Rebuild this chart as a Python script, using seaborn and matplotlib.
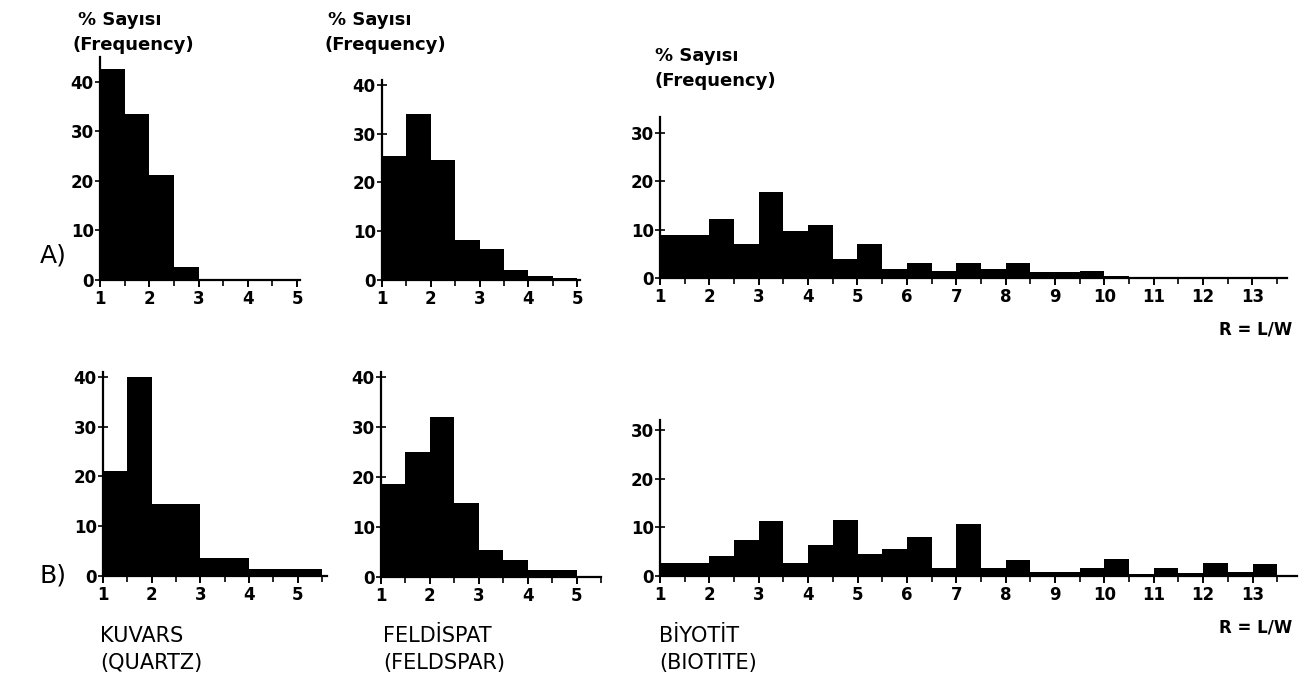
import numpy as np
import pandas as pd
import matplotlib
matplotlib.use("Agg")
import matplotlib.pyplot as plt
import seaborn as sns
from matplotlib.ticker import MultipleLocator

sns.set_theme(style="white")
plt.rcParams['font.family'] = ['DejaVu Sans']
plt.rcParams['font.weight'] = 'bold'
plt.rcParams['text.color'] = 'black'

# ---------------- data (percent frequency per 0.5-wide class of R = L/W) ----------------
quartz_a_edges = [1, 1.5, 2, 2.5, 3, 3.5, 4, 4.5, 5]
quartz_a_vals = [42.5, 33.4, 21.2, 2.7, 0.3, 0.3, 0.3, 0.3]

feldspar_a_edges = [1, 1.5, 2, 2.5, 3, 3.5, 4, 4.5, 5]
feldspar_a_vals = [25.5, 34, 24.7, 8.2, 6.4, 2, 0.9, 0.4]

biotite_a_edges = [1, 1.5, 2, 2.5, 3, 3.5, 4, 4.5, 5, 5.5, 6, 6.5, 7, 7.5, 8, 8.5,
                   9, 9.5, 10, 10.5, 11, 11.5, 12, 12.5, 13, 13.5]
biotite_a_vals = [8.8, 8.8, 12.2, 7, 17.8, 9.8, 11, 4, 7.1, 1.8, 3.1, 1.4, 3.2, 1.8, 3.2, 1.3,
                  1.3, 1.5, 0.5, 0.15, 0.15, 0.15, 0.15, 0.15, 0.15]

quartz_b_edges = [1, 1.5, 2, 2.5, 3, 3.5, 4, 4.5, 5, 5.5]
quartz_b_vals = [21.2, 40, 14.5, 14.5, 3.6, 3.6, 1.4, 1.4, 1.4]

feldspar_b_edges = [1, 1.5, 2, 2.5, 3, 3.5, 4, 4.5, 5]
feldspar_b_vals = [18.6, 25, 32, 14.9, 5.4, 3.4, 1.5, 1.5]

biotite_b_edges = [1, 1.5, 2, 2.5, 3, 3.5, 4, 4.5, 5, 5.5, 6, 6.5, 7, 7.5, 8, 8.5,
                   9, 9.5, 10, 10.5, 11, 11.5, 12, 12.5, 13, 13.5]
biotite_b_vals = [2.7, 2.7, 4.2, 7.3, 11.3, 2.7, 6.3, 11.5, 4.6, 5.5, 8, 1.7, 10.6, 1.7,
                  3.2, 0.9, 0.9, 1.7, 3.4, 0.5, 1.7, 0.7, 2.7, 0.8, 2.5]

y_label_top = "% Sayısı"
y_label_bottom = "(Frequency)"
x_label = "R = L/W"
row_labels = ["A)", "B)"]
mineral_tr = ["KUVARS", "FELDİSPAT", "BİYOTİT"]
mineral_en = ["(QUARTZ)", "(FELDSPAR)", "(BIOTITE)"]

# ---------------- layout ----------------
W, H = 1304, 686
fig = plt.figure(figsize=(W / 100, H / 100), dpi=100)
fig.patch.set_facecolor("white")


def add_axes_px(x_left, x_right, y_zero, y_top):
    return fig.add_axes([x_left / W, 1 - y_zero / H, (x_right - x_left) / W, (y_zero - y_top) / H])


panels = [
    (quartz_a_edges, quartz_a_vals, (100, 299.5, 280, 57), (1, 5.05), (0, 45), [0, 10, 20, 30, 40], [1, 2, 3, 4, 5]),
    (feldspar_a_edges, feldspar_a_vals, (382, 579.5, 280, 80), (1, 5.05), (0, 41), [0, 10, 20, 30, 40], [1, 2, 3, 4, 5]),
    (biotite_a_edges, biotite_a_vals, (660, 1287, 278, 117), (1, 13.7), (0, 33.3), [0, 10, 20, 30], list(range(1, 14))),
    (quartz_b_edges, quartz_b_vals, (103, 327, 576, 372), (1, 5.6), (0, 41), [0, 10, 20, 30, 40], [1, 2, 3, 4, 5]),
    (feldspar_b_edges, feldspar_b_vals, (381, 601, 577, 372), (1, 5.5), (0, 41), [0, 10, 20, 30, 40], [1, 2, 3, 4, 5]),
    (biotite_b_edges, biotite_b_vals, (660, 1297, 576, 420), (1, 13.9), (0, 32), [0, 10, 20, 30], list(range(1, 14))),
]

for edges, vals, px, xlim, ylim, yticks, xticks in panels:
    ax = add_axes_px(*px)
    e = [float(v) for v in edges]
    centers = [(a + b) / 2 for a, b in zip(e[:-1], e[1:])]
    df = pd.DataFrame({"R": centers, "pct": [float(v) for v in vals]})
    sns.histplot(data=df, x="R", weights="pct", bins=e, ax=ax, color="black",
                 alpha=1, linewidth=0, element="bars")
    ax.set_xlim(*xlim)
    ax.set_ylim(*ylim)
    ax.set_xlabel("")
    ax.set_ylabel("")
    ax.set_facecolor("none")
    for s in ["top", "right"]:
        ax.spines[s].set_visible(False)
    for s in ["left", "bottom"]:
        ax.spines[s].set_color("black")
        ax.spines[s].set_linewidth(1.6)
    ax.set_xticks(xticks)
    ax.set_yticks(yticks)
    ax.xaxis.set_minor_locator(MultipleLocator(0.5))
    ax.tick_params(axis="x", which="major", direction="out", length=5, width=1.4,
                   colors="black", labelsize=12, pad=2, bottom=True)
    ax.tick_params(axis="x", which="minor", direction="out", length=4, width=1.2,
                   colors="black", bottom=True)
    ax.tick_params(axis="y", which="major", direction="inout", length=7, width=1.2,
                   colors="black", labelsize=12, pad=1, left=True)
    for lab in ax.get_xticklabels() + ax.get_yticklabels():
        lab.set_fontweight("bold")
    ax.grid(False)

fs = 13
for (x, y) in [(78, 20), (328, 20), (655, 56)]:
    fig.text(x / W, 1 - y / H, y_label_top, fontsize=fs, fontweight="bold", va="center", ha="left")
for (x, y) in [(73, 45), (325, 45), (655, 81)]:
    fig.text(x / W, 1 - y / H, y_label_bottom, fontsize=fs, fontweight="bold", va="center", ha="left")

fig.text(40 / W, 1 - 255 / H, row_labels[0], fontsize=18, fontweight="normal", va="center", ha="left")
fig.text(40 / W, 1 - 575 / H, row_labels[1], fontsize=18, fontweight="normal", va="center", ha="left")

fig.text(1292 / W, 1 - 330 / H, x_label, fontsize=12, fontweight="bold", va="center", ha="right")
fig.text(1292 / W, 1 - 627 / H, x_label, fontsize=12, fontweight="bold", va="center", ha="right")

for x, tr, en in zip([100, 383, 659], mineral_tr, mineral_en):
    fig.text(x / W, 1 - 636 / H, tr, fontsize=15, fontweight="normal", va="center", ha="left")
    fig.text(x / W, 1 - 663 / H, en, fontsize=15, fontweight="normal", va="center", ha="left")

fig.savefig("out.png", dpi=100, facecolor="white")
